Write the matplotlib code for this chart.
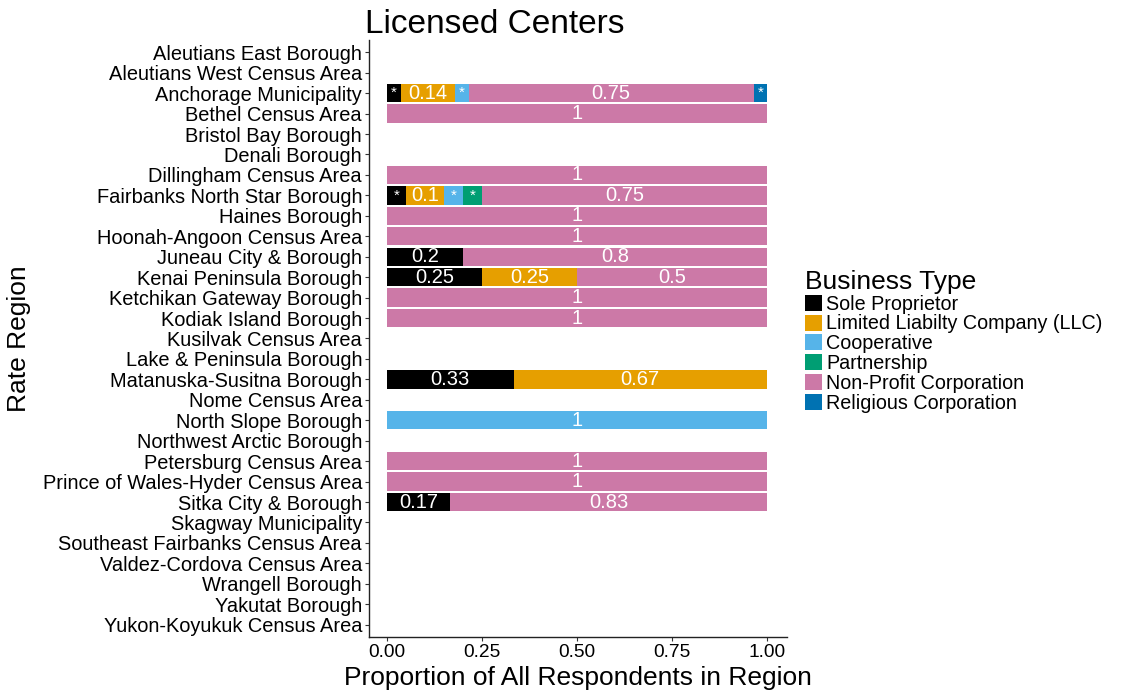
import matplotlib
matplotlib.use("Agg")
import matplotlib.pyplot as plt
from matplotlib.patches import Patch
import numpy as np

plt.rcParams['font.family'] = ['Liberation Sans', 'DejaVu Sans']

regions = [
    'Aleutians East Borough', 'Aleutians West Census Area', 'Anchorage Municipality',
    'Bethel Census Area', 'Bristol Bay Borough', 'Denali Borough', 'Dillingham Census Area',
    'Fairbanks North Star Borough', 'Haines Borough', 'Hoonah-Angoon Census Area',
    'Juneau City & Borough', 'Kenai Peninsula Borough', 'Ketchikan Gateway Borough',
    'Kodiak Island Borough', 'Kusilvak Census Area', 'Lake & Peninsula Borough',
    'Matanuska-Susitna Borough', 'Nome Census Area', 'North Slope Borough',
    'Northwest Arctic Borough', 'Petersburg Census Area', 'Prince of Wales-Hyder Census Area',
    'Sitka City & Borough', 'Skagway Municipality', 'Southeast Fairbanks Census Area',
    'Valdez-Cordova Census Area', 'Wrangell Borough', 'Yakutat Borough',
    'Yukon-Koyukuk Census Area',
]

business_types = ['Sole Proprietor', 'Limited Liabilty Company (LLC)', 'Cooperative',
                  'Partnership', 'Non-Profit Corporation', 'Religious Corporation']
type_colors = ['#000000', '#E69F00', '#56B4E9', '#009E73', '#CC79A7', '#0072B2']

# proportion of respondents per region, one list per business type
sole_prop = [0, 0, 0.036, 0, 0, 0, 0, 0.05, 0, 0, 0.2, 0.25, 0, 0, 0, 0, 0.333, 0, 0, 0, 0, 0, 0.167, 0, 0, 0, 0, 0, 0]
llc       = [0, 0, 0.143, 0, 0, 0, 0, 0.1, 0, 0, 0, 0.25, 0, 0, 0, 0, 0.667, 0, 0, 0, 0, 0, 0, 0, 0, 0, 0, 0, 0]
coop      = [0, 0, 0.036, 0, 0, 0, 0, 0.05, 0, 0, 0, 0, 0, 0, 0, 0, 0, 0, 1, 0, 0, 0, 0, 0, 0, 0, 0, 0, 0]
partner   = [0, 0, 0, 0, 0, 0, 0, 0.05, 0, 0, 0, 0, 0, 0, 0, 0, 0, 0, 0, 0, 0, 0, 0, 0, 0, 0, 0, 0, 0]
nonprofit = [0, 0, 0.75, 1, 0, 0, 1, 0.75, 1, 1, 0.8, 0.5, 1, 1, 0, 0, 0, 0, 0, 0, 1, 1, 0.833, 0, 0, 0, 0, 0, 0]
religious = [0, 0, 0.036, 0, 0, 0, 0, 0, 0, 0, 0, 0, 0, 0, 0, 0, 0, 0, 0, 0, 0, 0, 0, 0, 0, 0, 0, 0, 0]

series = [sole_prop, llc, coop, partner, nonprofit, religious]

fig = plt.figure(figsize=(11.26, 6.92), dpi=100)
ax = fig.add_axes([0.3277, 0.0795, 0.3712, 0.8627])

y = np.arange(1, len(regions) + 1)
left = np.zeros(len(regions))
for vals, col in zip(series, type_colors):
    vals = np.array(vals, dtype=float)
    ax.barh(y, vals, left=left, height=0.9, color=col, linewidth=0)
    for yi, v, l in zip(y, vals, left):
        if v <= 0:
            continue
        lab = '*' if v < 0.06 else f"{round(v, 2):g}"
        ax.text(l + v / 2, yi, lab, color='white', ha='center', va='center',
                fontsize=14.5 if lab != '*' else 11)
    left += vals

ax.set_xlim(-0.0475, 1.053)
ax.set_ylim(len(regions) + 0.6, 0.4)
ax.set_yticks(y)
ax.set_yticklabels(regions, fontsize=14.4, color='black')
ax.set_xticks([0, 0.25, 0.5, 0.75, 1.0])
ax.set_xticklabels(['0.00', '0.25', '0.50', '0.75', '1.00'], fontsize=13.8, color='black')
ax.tick_params(axis='both', length=3, width=0.8, color='#333333', pad=2)
for s in ['top', 'right']:
    ax.spines[s].set_visible(False)
for s in ['left', 'bottom']:
    ax.spines[s].set_linewidth(1.0)
    ax.spines[s].set_color('#222222')

ax.set_xlabel('Proportion of All Respondents in Region', fontsize=19, labelpad=4)
ax.set_ylabel('Rate Region', fontsize=19, labelpad=8)
ax.set_title('Licensed Centers', fontsize=24, loc='left', pad=2, x=-0.01)

handles = [Patch(facecolor=c, edgecolor='none') for c in type_colors]
leg = fig.legend(handles, business_types, loc='upper left',
                 bbox_to_anchor=(795 / 1126, 1 - 260 / 692), frameon=False,
                 fontsize=14.2, title='Business Type', title_fontsize=19,
                 handlelength=0.88, handleheight=0.88, handletextpad=0.2,
                 labelspacing=0.04, borderpad=0, alignment='left')

fig.savefig('out.png', dpi=100)
